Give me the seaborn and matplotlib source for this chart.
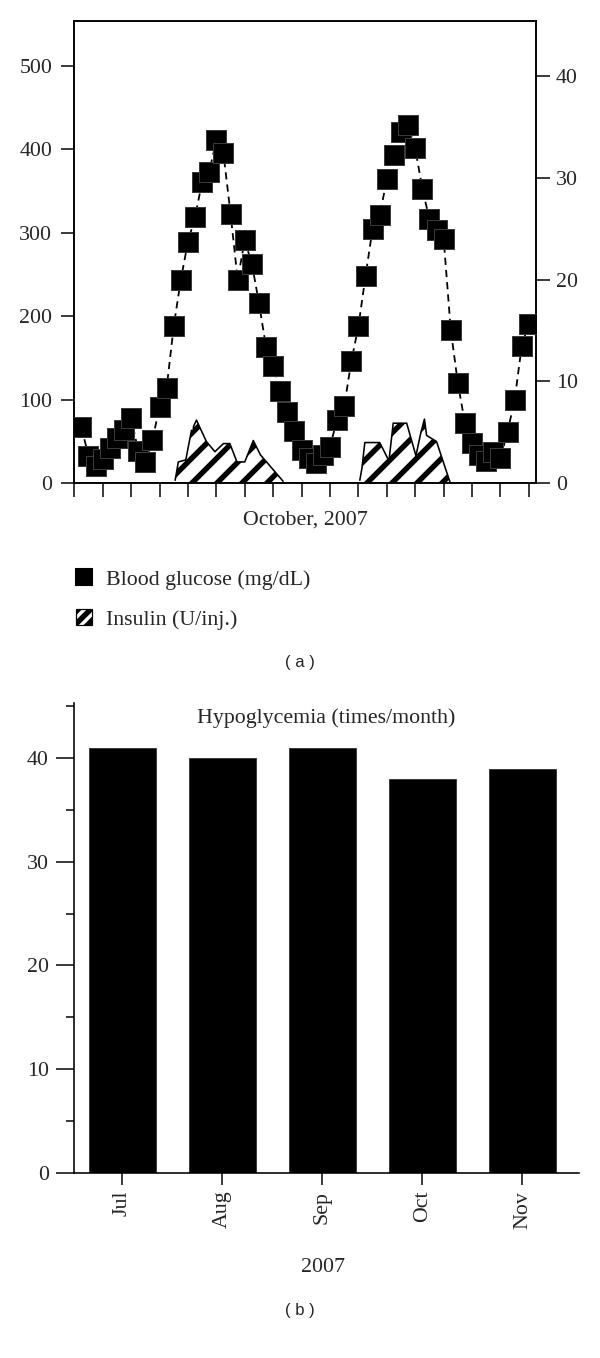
import matplotlib
matplotlib.use("Agg")
import matplotlib.pyplot as plt
import seaborn as sns
import numpy as np
import pandas as pd
from matplotlib.lines import Line2D
from matplotlib.patches import Patch

sns.set_style("ticks")
plt.rcParams['font.family'] = ['Liberation Serif', 'DejaVu Serif']
plt.rcParams['hatch.linewidth'] = 2.6

DPI = 150


def px(v):
    # pixels -> points at the figure dpi
    return v * 72.0 / DPI


# --- panel (a): glucose readings (two per day) and insulin doses ---
reading = list(range(1, 65))
glucose = [67, 33, 21, 29, 42, 54, 64, 78, 39, 25,
           52, 91, 114, 188, 244, 289, 319, 361, 373, 411,
           395, 323, 244, 291, 263, 216, 163, 140, 110, 86,
           63, 40, 30, 24, 34, 44, 76, 92, 146, 188,
           248, 305, 321, 364, 393, 421, 429, 401, 353, 316,
           303, 293, 184, 120, 72, 48, 34, 27, 38, 30,
           62, 100, 165, 191]

insulin_x1 = [14.2, 14.65, 15.7, 16.5, 16.7, 16.8, 17.2, 18.6, 19.8, 21.0, 21.9, 22.9, 24.0, 25.2, 26.2, 29.4]
insulin_y1 = [0.3, 2.1, 2.3, 5.2, 5.0, 5.6, 6.2, 4.1, 3.1, 3.9, 3.9, 2.1, 2.1, 4.2, 2.8, 0.2]
insulin_x2 = [40.2, 40.5, 40.9, 43.0, 44.3, 44.9, 46.8, 48.1, 48.8, 49.3, 49.6, 51.0, 52.9]
insulin_y2 = [0.3, 1.5, 4.0, 4.0, 2.2, 5.9, 5.9, 2.7, 5.0, 6.3, 4.7, 4.1, 0.1]

glucose_ticks = [0, 100, 200, 300, 400, 500]
insulin_ticks = [0, 10, 20, 30, 40]

# --- panel (b): hypoglycemia episodes per month ---
months = ["Jul", "Aug", "Sep", "Oct", "Nov"]
hypo = [41, 40, 41, 38, 39]

FS = 10.5
fig = plt.figure(figsize=(600 / DPI, 1358 / DPI), dpi=DPI)

# ---------------- panel (a) ----------------
ax = fig.add_axes([0.1238, 0.6441, 0.7695, 0.3404])
ax2 = ax.twinx()
ax.set_zorder(ax2.get_zorder() + 1)
ax.patch.set_visible(False)

for xs, ys in [(insulin_x1, insulin_y1), (insulin_x2, insulin_y2)]:
    ax2.fill_between(xs, ys, 0, facecolor="white", edgecolor="black",
                     hatch="//", linewidth=0)
    sns.lineplot(x=xs, y=ys, ax=ax2, color="black", linewidth=px(1.6),
                 sort=False, estimator=None)

df_g = pd.DataFrame({"reading": reading, "glucose": glucose})
sns.lineplot(data=df_g, x="reading", y="glucose", ax=ax, color="black",
             linewidth=px(1.8), dashes=False, linestyle=(0, (4.0, 2.8)),
             sort=False, estimator=None)
sns.scatterplot(data=df_g, x="reading", y="glucose", ax=ax, marker="s",
                s=px(20) ** 2, color="black", edgecolor="#3a3a3a",
                linewidth=px(1.0), zorder=5)

ax.set_xlim(0, 65)
ax.set_ylim(0, 553.6)
ax2.set_ylim(0, 45.37)
ax.set_xticks(range(0, 65, 4))
ax.set_xticklabels([])
ax.set_yticks(glucose_ticks)
ax2.set_yticks(insulin_ticks)
ax.set_xlabel("")
ax.set_ylabel("")
ax2.set_ylabel("")

for a in (ax, ax2):
    for sp in a.spines.values():
        sp.set_visible(True)
        sp.set_linewidth(px(1.6))
        sp.set_color("black")
ax.tick_params(axis="x", direction="out", length=px(14), width=px(1.5), color="black")
ax.tick_params(axis="y", direction="out", length=px(13), width=px(1.5),
               pad=px(9), labelsize=FS, color="black")
ax2.tick_params(axis="y", direction="out", length=px(14), width=px(1.5),
                pad=px(6), labelsize=FS, color="black")

fig.text(305 / 600, 1 - 520 / 1358, "October, 2007", ha="center", va="center", fontsize=FS)

handles = [
    Line2D([], [], marker="s", color="black", linestyle="none", markersize=px(16)),
    Patch(facecolor="white", edgecolor="black", hatch="////", linewidth=px(1.2)),
]
fig.legend(handles, ["Blood glucose (mg/dL)", "Insulin (U/inj.)"],
           loc="upper left", bbox_to_anchor=(76 / 600, 1 - 569 / 1358),
           frameon=False, fontsize=FS, borderpad=0, borderaxespad=0,
           handlelength=0.75, handleheight=0.75, handletextpad=0.6,
           labelspacing=0.88)

fig.text(300 / 600, 1 - 662 / 1358, "( a )", ha="center", va="center",
         fontsize=8, family=["Liberation Sans", "DejaVu Sans"])

# ---------------- panel (b) ----------------
axb = fig.add_axes([0.1233, 0.13645, 0.8417, 0.3457])
sns.barplot(x=months, y=hypo, ax=axb, color="black", saturation=1,
            width=0.664, edgecolor="#2a2a2a", linewidth=px(0.8))
axb.set_xlim(-0.485, 4.565)
axb.set_ylim(0, 45.3)
axb.set_yticks([0, 10, 20, 30, 40])
axb.set_yticks([5, 15, 25, 35, 45], minor=True)
axb.set_xlabel("")
axb.set_ylabel("")
sns.despine(ax=axb)
for sp in ("left", "bottom"):
    axb.spines[sp].set_linewidth(px(1.6))
    axb.spines[sp].set_color("black")
axb.tick_params(axis="y", which="major", direction="out", length=px(18),
                width=px(1.5), pad=px(7), labelsize=FS, color="black")
axb.tick_params(axis="y", which="minor", direction="out", length=px(8),
                width=px(1.5), color="black")
axb.tick_params(axis="x", direction="out", length=px(12), width=px(1.5),
                pad=px(6), labelsize=FS, labelrotation=90, color="black")
axb.text(0.5, 0.969, "Hypoglycemia (times/month)", transform=axb.transAxes,
         ha="center", va="center", fontsize=FS)

fig.text(323 / 600, 1 - 1268 / 1358, "2007", ha="center", va="center", fontsize=FS)
fig.text(300 / 600, 1 - 1310 / 1358, "( b )", ha="center", va="center",
         fontsize=8, family=["Liberation Sans", "DejaVu Sans"])

fig.savefig("out.png", dpi=DPI, facecolor="white")
